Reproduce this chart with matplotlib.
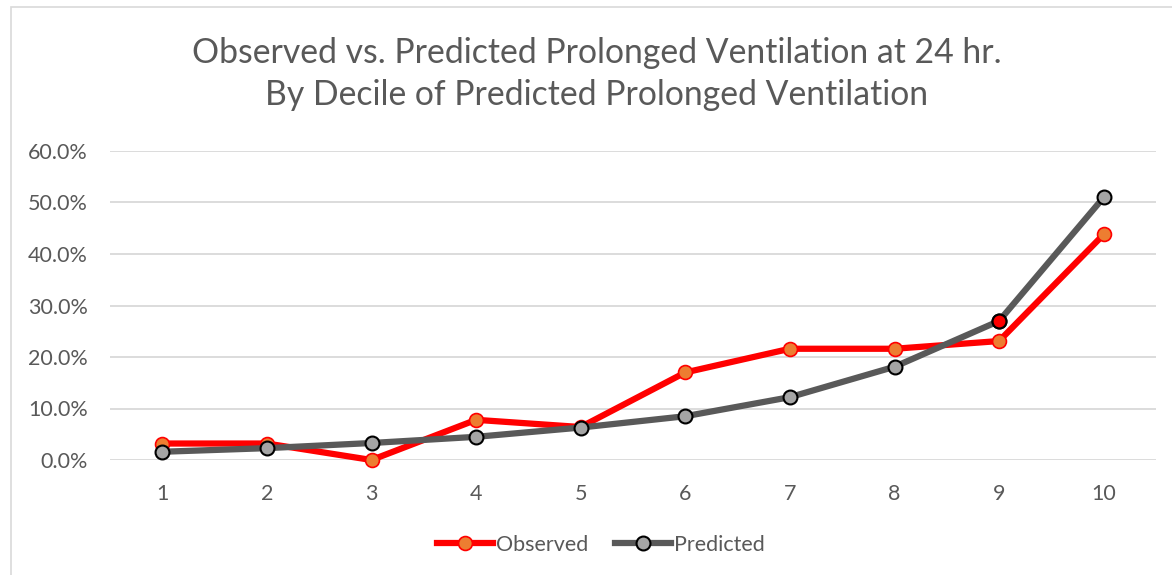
import matplotlib.pyplot as plt
from matplotlib.patches import Rectangle
from matplotlib.ticker import PercentFormatter

deciles = [1, 2, 3, 4, 5, 6, 7, 8, 9, 10]
observed = [3.2, 3.2, 0.0, 7.8, 6.4, 17.0, 21.6, 21.6, 23.1, 43.8]
predicted = [1.6, 2.3, 3.3, 4.5, 6.3, 8.5, 12.2, 18.1, 27.0, 51.0]
y_ticks = [0, 10, 20, 30, 40, 50, 60]

title = ("Observed vs. Predicted Prolonged Ventilation at 24 hr.\n"
         "By Decile of Predicted Prolonged Ventilation")

plt.rcParams['font.family'] = ['Lato', 'DejaVu Sans']
grey_text = '#595959'

fig = plt.figure(figsize=(11.72, 5.75), dpi=100)
fig.patches.append(Rectangle((11 / 1172, -0.1), 1.2, 1.1 - 7 / 575, transform=fig.transFigure,
                             fill=False, edgecolor='#D9D9D9', linewidth=1.2))

ax = fig.add_axes([110 / 1172, 115 / 575, 1046 / 1172, 309 / 575])

ax.plot(deciles, observed, color='#FF0000', linewidth=4.5, marker='o', markersize=10,
        markerfacecolor='#ED7D31', markeredgecolor='#FF0000', markeredgewidth=1.2,
        label='Observed', clip_on=False, zorder=3)
ax.plot(deciles, predicted, color='#595959', linewidth=4.5, marker='o', markersize=10,
        markerfacecolor='#A5A5A5', markeredgecolor='black', markeredgewidth=1.5,
        label='Predicted', clip_on=False, zorder=4)
# highlighted point at decile 9
ax.plot(deciles[8], predicted[8], marker='o', markersize=10, markerfacecolor='#FF0000',
        markeredgecolor='black', markeredgewidth=1.5, clip_on=False, zorder=5)

ax.set_xlim(0.5, 10.5)
ax.set_ylim(0, 60)
ax.set_xticks(deciles)
ax.set_yticks(y_ticks)
ax.yaxis.set_major_formatter(PercentFormatter(decimals=1))
ax.grid(axis='y', color='#D9D9D9', linewidth=1.3)
ax.set_axisbelow(True)
for s in ax.spines.values():
    s.set_visible(False)
ax.tick_params(length=0, labelsize=15.5, labelcolor=grey_text)
ax.tick_params(axis='x', pad=17)
ax.tick_params(axis='y', pad=16)

fig.text(597 / 1172, 1 - 74 / 575, title, ha='center', va='center', fontsize=24.3,
         color=grey_text, linespacing=1.42)

fig.legend(loc='center', bbox_to_anchor=(601 / 1172, 1 - 545 / 575), ncol=2, frameon=False,
           fontsize=15.5, labelcolor=grey_text, handlelength=2.6, handletextpad=0.15,
           columnspacing=1.25)

fig.savefig('out.png', dpi=100)
